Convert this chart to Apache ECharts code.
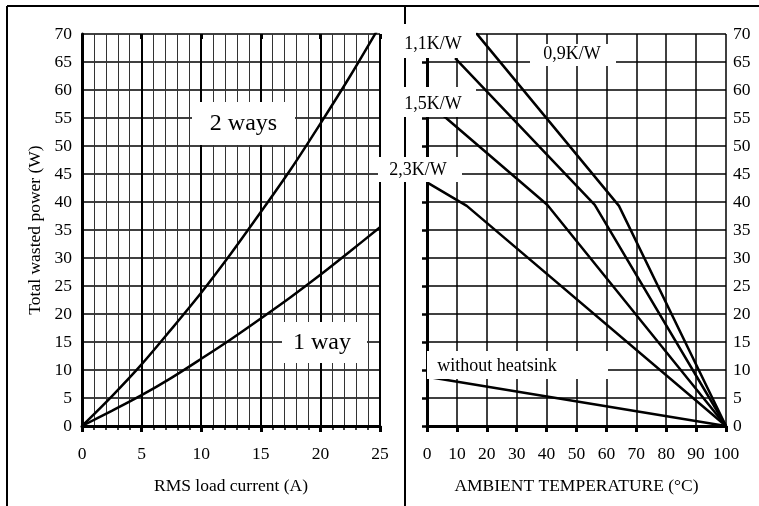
<!DOCTYPE html>
<html><head><meta charset="utf-8">
<script src="https://cdn.jsdelivr.net/npm/echarts@6/dist/echarts.min.js"></script>
<style>html,body{margin:0;padding:0;background:#fff}#c{width:759px;height:506px}</style>
</head><body><div id="c"></div>
<script>
// ---- data ----
const currentA  = [0, 2.5, 5, 7.5, 10, 12.5, 15, 17.5, 20, 22.5, 25];
const twoWaysW  = [0, 5.3, 11, 17.3, 23.8, 30.8, 38.2, 45.8, 54, 62.5, 71.5];
const oneWayW   = [0, 2.7, 5.5, 8.6, 12, 15.5, 19.2, 23, 27, 31.2, 35.5];

const r09T = [16.4, 64.2, 100], r09P = [70.2, 39.3, 0];
const r11T = [9.4, 56.1, 100],  r11P = [65.7, 39.5, 0];
const r15T = [5.5, 40.2, 100],  r15P = [55.4, 39.5, 0];
const r23T = [0, 13.3, 100],    r23P = [43.5, 39.3, 0];
const noHsT = [0, 100],         noHsP = [8.8, 0];

const leftLabels  = ['2 ways', '1 way'];
const rightLabels = ['1,1K/W', '0,9K/W', '1,5K/W', '2,3K/W', 'without heatsink'];
const leftXTitle = 'RMS load current (A)';
const rightXTitle = 'AMBIENT TEMPERATURE (°C)';
const yTitle = 'Total wasted power (W)';

// ---- build ----
const zip = (xs, ys) => xs.map((x, i) => [x, ys[i]]);
const FF = '"Liberation Serif", "Times New Roman", serif';
const black = '#000';

const chart = echarts.init(document.getElementById('c'));

function line(xi, yi, data) {
  return { type: 'line', xAxisIndex: xi, yAxisIndex: yi, data: data, symbol: 'none',
    smooth: xi === 0 ? 0.3 : false, lineStyle: { color: black, width: 2.5 }, z: 5, silent: true, animation: false };
}
function box(x, y, w, h, text, size, tx, ty) {
  return [
    { type: 'rect', z: 100, shape: { x: x, y: y, width: w, height: h }, style: { fill: '#fff' } },
    { type: 'text', z: 101, style: { text: text, x: tx, y: ty, font: size + 'px ' + FF, fill: black, align: 'center', verticalAlign: 'middle' } }
  ];
}
function frameLine(x1, y1, x2, y2) {
  return { type: 'line', z: 50, shape: { x1: x1, y1: y1, x2: x2, y2: y2 }, style: { stroke: black, lineWidth: 2 } };
}

const labelStyle = { fontFamily: FF, fontSize: 17.5, color: black };

chart.setOption({
  animation: false,
  grid: [
    { left: 82, top: 34, width: 298, height: 392 },
    { left: 427, top: 34, width: 299, height: 392 }
  ],
  xAxis: [
    { gridIndex: 0, type: 'value', min: 0, max: 25, interval: 5,
      axisLine: { lineStyle: { color: black, width: 3 } },
      axisTick: { show: true, length: 6, lineStyle: { color: black, width: 3 } },
      minorTick: { show: true, splitNumber: 5, length: 4, lineStyle: { color: black, width: 1.5 } },
      splitLine: { show: true, lineStyle: { color: black, width: 2 } },
      minorSplitLine: { show: true, lineStyle: { color: '#333', width: 1 } },
      axisLabel: Object.assign({ margin: 19 }, labelStyle),
      name: leftXTitle, nameLocation: 'middle', nameGap: 51, nameTextStyle: labelStyle },
    { gridIndex: 0, type: 'value', min: 0, max: 25, interval: 5,
      axisLine: { show: false },
      axisTick: { show: true, inside: true, length: 5, lineStyle: { color: black, width: 3 } },
      axisLabel: { show: false }, splitLine: { show: false } },
    { gridIndex: 1, type: 'value', min: 0, max: 100, interval: 10,
      axisLine: { lineStyle: { color: black, width: 3 } },
      axisTick: { show: true, length: 6, lineStyle: { color: black, width: 3 } },
      splitLine: { show: true, lineStyle: { color: black, width: 1.5 } },
      axisLabel: Object.assign({ margin: 19 }, labelStyle),
      name: rightXTitle, nameLocation: 'middle', nameGap: 51, nameTextStyle: labelStyle },
    { gridIndex: 1, type: 'value', min: 0, max: 100, interval: 10,
      axisLine: { show: false },
      axisTick: { show: true, inside: true, length: 5, lineStyle: { color: black, width: 3 } },
      axisLabel: { show: false }, splitLine: { show: false } }
  ],
  yAxis: [
    { gridIndex: 0, type: 'value', min: 0, max: 70, interval: 5,
      axisLine: { show: true, lineStyle: { color: black, width: 3 } },
      axisTick: { show: false },
      splitLine: { show: true, lineStyle: { color: black, width: 1.5 } },
      axisLabel: Object.assign({ margin: 10 }, labelStyle),
      name: yTitle, nameLocation: 'middle', nameGap: 38, nameTextStyle: labelStyle },
    { gridIndex: 1, type: 'value', position: 'right', min: 0, max: 70, interval: 5,
      axisLine: { show: false }, axisTick: { show: false },
      splitLine: { show: true, lineStyle: { color: black, width: 1.5 } },
      axisLabel: Object.assign({ margin: 7 }, labelStyle) },
    { gridIndex: 1, type: 'value', position: 'left', min: 0, max: 70, interval: 5,
      axisLine: { show: true, lineStyle: { color: black, width: 3 } },
      axisTick: { show: true, length: 5, lineStyle: { color: black, width: 2.5 } },
      axisLabel: { show: false }, splitLine: { show: false } }
  ],
  series: [
    line(0, 0, zip(currentA, twoWaysW)),
    line(0, 0, zip(currentA, oneWayW)),
    line(2, 1, zip(r09T, r09P)),
    line(2, 1, zip(r11T, r11P)),
    line(2, 1, zip(r15T, r15P)),
    line(2, 1, zip(r23T, r23P)),
    line(2, 1, zip(noHsT, noHsP))
  ],
  graphic: [
    frameLine(7, 6, 759, 6),
    frameLine(7, 6, 7, 506),
    frameLine(405, 6, 405, 506),
    ...box(192, 102, 103, 43, leftLabels[0], 24, 243.5, 124),
    ...box(282, 322, 85, 41, leftLabels[1], 24, 322, 343),
    ...box(395, 24, 81, 34, rightLabels[0], 18, 433, 44),
    ...box(530, 44, 86, 22, rightLabels[1], 18, 572, 54),
    ...box(395, 87, 81, 30, rightLabels[2], 18, 433, 104),
    ...box(378, 157, 84, 25, rightLabels[3], 18, 418, 170),
    ...box(427, 351, 181, 28, rightLabels[4], 18, 497, 366)
  ]
});
</script>
</body></html>
